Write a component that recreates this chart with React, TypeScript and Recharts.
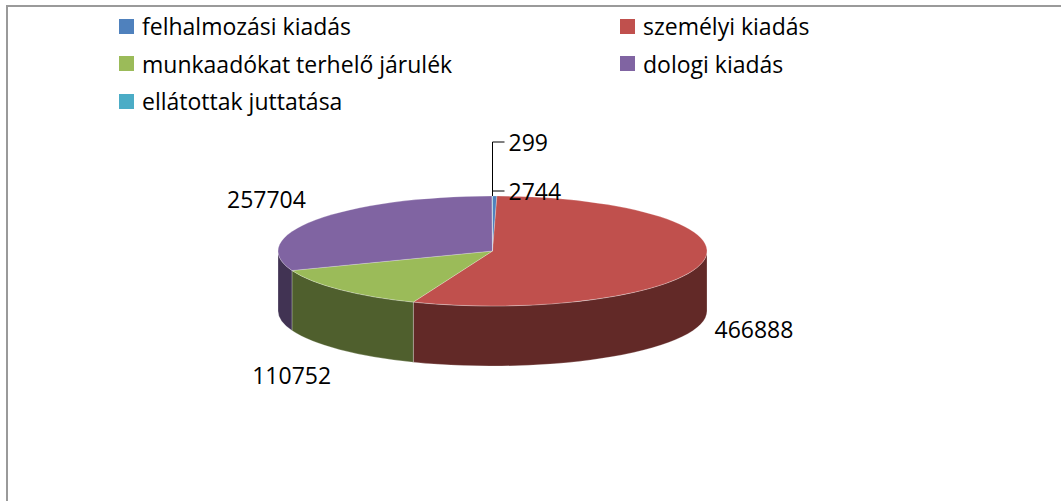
import { PieChart, Pie, Cell } from "recharts";

const categories = [
  "felhalmozási kiadás",
  "személyi kiadás",
  "munkaadókat terhelő járulék",
  "dologi kiadás",
  "ellátottak juttatása",
];
const values = [2744, 466888, 110752, 257704, 299];
const colors = ["#4F81BD", "#C0504D", "#9BBB59", "#8064A2", "#4BACC6"];

const chartData = categories.map((name, i) => ({ name, value: values[i] }));

const TILT = 0.2564; // ellipse ry / rx
const DEPTH = 0.28; // side wall height / rx
const FONT = "'Open Sans', sans-serif";

function shade(hex: string, f: number) {
  const n = parseInt(hex.slice(1), 16);
  const r = Math.round(((n >> 16) & 255) * f);
  const g = Math.round(((n >> 8) & 255) * f);
  const b = Math.round((n & 255) * f);
  return `rgb(${r},${g},${b})`;
}

// 3D slice: elliptical top face plus the visible front wall
const Slice3D = (p: any) => {
  const { cx, cy, outerRadius, startAngle, endAngle, fill } = p;
  const rx = outerRadius;
  const ry = outerRadius * TILT;
  const d = outerRadius * DEPTH;
  const pt = (deg: number, dy = 0) => {
    const a = (deg * Math.PI) / 180;
    return `${cx + rx * Math.cos(a)},${cy - ry * Math.sin(a) + dy}`;
  };
  const hi = Math.max(startAngle, endAngle);
  const lo = Math.min(startAngle, endAngle);
  const large = hi - lo > 180 ? 1 : 0;
  const top = `M${cx},${cy} L${pt(hi)} A${rx},${ry} 0 ${large} 1 ${pt(lo)} Z`;

  let wall = null;
  const wHi = Math.min(hi, 0);
  const wLo = Math.max(lo, -180);
  if (wLo < wHi) {
    const path =
      `M${pt(wHi)} A${rx},${ry} 0 0 1 ${pt(wLo)} L${pt(wLo, d)} ` +
      `A${rx},${ry} 0 0 0 ${pt(wHi, d)} Z`;
    wall = <path d={path} fill={shade(fill, 0.51)} stroke="rgba(255,255,255,0.3)" strokeWidth={0.8} />;
  }
  return (
    <g>
      {wall}
      <path d={top} fill={fill} stroke="rgba(255,255,255,0.3)" strokeWidth={0.8} />
    </g>
  );
};

const smallRank: Record<number, number> = {};
{
  const total = values.reduce((s, v) => s + v, 0);
  let r = 0;
  values.forEach((v, i) => {
    if (v / total < 0.01) smallRank[i] = r++;
  });
}

const renderLabel = (p: any) => {
  const { cx, cy, midAngle, outerRadius, value, index, percent } = p;
  const rx = outerRadius;
  const ry = outerRadius * TILT;
  const d = outerRadius * DEPTH;
  const a = (midAngle * Math.PI) / 180;
  const cos = Math.cos(a);
  const sin = Math.sin(a);
  if (percent < 0.01) {
    // tiny slices: stacked labels with elbow leader lines above the top
    const rank = smallRank[index] ?? 0;
    const x0 = cx;
    const y0 = cy - ry;
    const yl = y0 - 5 - rank * 49;
    return (
      <g>
        <polyline
          points={`${x0},${y0} ${x0},${yl} ${x0 + 12},${yl}`}
          stroke="#000"
          strokeWidth={1}
          fill="none"
        />
        <text x={x0 + 16} y={yl} dominantBaseline="central" fontFamily={FONT} fontSize={23} fill="#000">
          {value}
        </text>
      </g>
    );
  }
  const x = cx + (rx + 12) * cos;
  const y = cy - (ry + 36) * sin + (sin < 0 ? d : 0);
  return (
    <text
      x={x}
      y={y}
      textAnchor={cos >= 0 ? "start" : "end"}
      dominantBaseline="central"
      fontFamily={FONT}
      fontSize={23}
      fill="#000"
    >
      {value}
    </text>
  );
};

export default function App() {
  return (
    <div
      style={{
        position: "absolute",
        left: 0,
        top: 0,
        width: 1061,
        height: 501,
        overflow: "hidden",
        background: "#fff",
        fontFamily: FONT,
      }}
    >
      <div
        style={{
          position: "absolute",
          left: 6,
          top: 5,
          width: 1100,
          height: 600,
          border: "2px solid #9a9a9a",
          boxSizing: "border-box",
        }}
      />
      <div style={{ position: "absolute", left: 119, top: 7, width: 900 }}>
        {categories.map((c, i) => (
          <div
            key={c}
            style={{
              position: "absolute",
              left: (i % 2) * 501,
              top: Math.floor(i / 2) * 37.5,
              height: 38,
              display: "flex",
              alignItems: "center",
              whiteSpace: "nowrap",
              fontSize: 23,
              color: "#000",
            }}
          >
            <span style={{ width: 15, height: 15, background: colors[i], marginRight: 8, display: "inline-block" }} />
            {c}
          </div>
        ))}
      </div>
      <div style={{ position: "absolute", left: 0, top: 0 }}>
        <PieChart width={1061} height={501} margin={{ top: 0, right: 0, bottom: 0, left: 0 }}>
          <Pie
            data={chartData}
            dataKey="value"
            nameKey="name"
            cx={492.5}
            cy={251}
            outerRadius={214.5}
            startAngle={90}
            endAngle={-270}
            isAnimationActive={false}
            labelLine={false}
            label={renderLabel}
            shape={Slice3D}
            inactiveShape={Slice3D}
            activeShape={Slice3D}
            stroke="none"
          >
            {chartData.map((e, i) => (
              <Cell key={e.name} fill={colors[i]} />
            ))}
          </Pie>
        </PieChart>
      </div>
    </div>
  );
}
